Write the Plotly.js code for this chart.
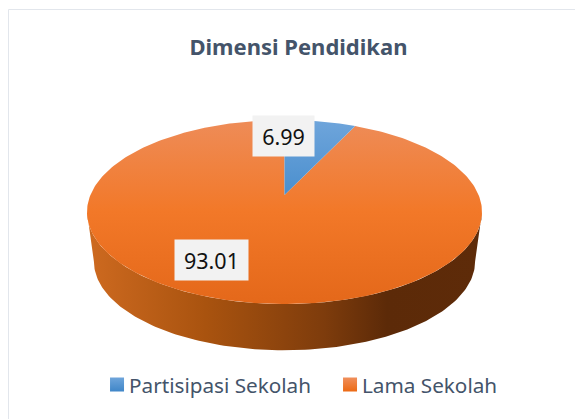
<!DOCTYPE html>
<html>
<head>
<meta charset="utf-8">
<script src="https://cdn.plot.ly/plotly-3.0.1.min.js"></script>
<style>html,body{margin:0;padding:0;background:#fff}#c{width:575px;height:419px}</style>
</head>
<body>
<div id="c"></div>
<script>
// Data
var categories = ["Partisipasi Sekolah", "Lama Sekolah"];
var values = [6.99, 93.01];
var valueLabels = ["6.99", "93.01"];

// Perspective disk model in an axis space that matches the page
var CX = 284.5, CY = 195, A = 194.1, B = 88.9, K = 0.185;
var BOTTOM_SCALE = 0.965, BOTTOM_CY = 245;

function project(theta, cy, s) {
  var u = Math.sin(theta), v = Math.cos(theta), d = 1 + K * v;
  return [CX + s * A * u / d, cy - s * B * v / d];
}
function arc(a0, a1, cy, s) {
  var n = Math.max(2, Math.ceil(Math.abs(a1 - a0) / 0.02)), pts = [];
  for (var i = 0; i <= n; i++) pts.push(project(a0 + (a1 - a0) * i / n, cy, s));
  return pts;
}
function sliceTrace(from, to, colorscale) {
  var pts = [[CX, CY]].concat(arc(from, to, CY, 1)).concat([[CX, CY]]);
  return {
    x: pts.map(function (p) { return p[0]; }),
    y: pts.map(function (p) { return p[1]; }),
    mode: "lines", line: {width: 0}, fill: "toself",
    fillgradient: {type: "vertical", colorscale: colorscale, start: 120, stop: 304},
    showlegend: false, hoverinfo: "skip"
  };
}

var total = values.reduce(function (a, b) { return a + b; }, 0);
var a1 = 2 * Math.PI * values[0] / total;
var edge = Math.PI - Math.acos(K);            // silhouette of the disk
var wallPts = arc(edge, 2 * Math.PI - edge, CY, 1)
  .concat(arc(2 * Math.PI - edge, edge, BOTTOM_CY, BOTTOM_SCALE));
wallPts.push(wallPts[0]);

var wall = {
  x: wallPts.map(function (p) { return p[0]; }),
  y: wallPts.map(function (p) { return p[1]; }),
  mode: "lines", line: {width: 0}, fill: "toself",
  fillgradient: {type: "horizontal", start: 87, stop: 482, colorscale: [
    [0, "#CE6A20"], [0.3, "#A9530F"], [0.6, "#7E3C0C"], [0.76, "#5C2A08"], [1, "#5E2B09"]
  ]},
  showlegend: false, hoverinfo: "skip"
};
var blue = sliceTrace(0, a1, [[0, "#6FA5DB"], [0.41, "#4A8FCE"], [1, "#4A8FCE"]]);
var orange = sliceTrace(a1, 2 * Math.PI, [[0, "#EE8C58"], [0.5, "#F27828"], [1, "#E4681A"]]);

function legendTrace(name, top, bottom) {
  return {
    x: [null], y: [null], name: name, mode: "markers", hoverinfo: "skip",
    marker: {symbol: "square", size: 14, color: top, gradient: {type: "vertical", color: bottom}}
  };
}

var traces = [wall, orange, blue,
  legendTrace(categories[0], "#6FA5DB", "#3F86C8"),
  legendTrace(categories[1], "#F08F5C", "#EC6A14")];

var FONT = "'Noto Sans', 'Open Sans', sans-serif";
var layout = {
  width: 575, height: 419,
  margin: {l: 0, r: 0, t: 0, b: 0},
  paper_bgcolor: "#fff", plot_bgcolor: "rgba(0,0,0,0)",
  xaxis: {range: [0, 575], visible: false, fixedrange: true},
  yaxis: {range: [419, 0], visible: false, fixedrange: true},
  title: {
    text: "<b>Dimensi Pendidikan</b>",
    font: {family: FONT, size: 22, color: "#44546A"},
    x: 0.519, xanchor: "center", y: 0.887, yanchor: "middle"
  },
  legend: {
    orientation: "h", x: 0.167, xanchor: "left", y: 0.13, yanchor: "top",
    font: {family: FONT, size: 20.7, color: "#44546A"},
    itemsizing: "trace", indentation: -7, entrywidth: 195, entrywidthmode: "pixels",
    bgcolor: "rgba(0,0,0,0)"
  },
  shapes: [{
    type: "rect", xref: "x", yref: "y", x0: 8.5, x1: 700, y0: 9.5, y1: 700,
    line: {color: "#E2E6EC", width: 1}, fillcolor: "rgba(0,0,0,0)", layer: "below"
  }],
  annotations: [
    {x: 283.5, y: 136, xref: "x", yref: "y", text: valueLabels[0], showarrow: false,
     width: 59, height: 38, bgcolor: "#F2F2F2",
     font: {family: FONT, size: 21.5, color: "#111"}},
    {x: 211.5, y: 260, xref: "x", yref: "y", text: valueLabels[1], showarrow: false,
     width: 71, height: 38, bgcolor: "#F2F2F2",
     font: {family: FONT, size: 21.5, color: "#111"}}
  ]
};
Plotly.newPlot("c", traces, layout, {displayModeBar: false, staticPlot: true}).then(function () {
  // The legend keeps a fixed swatch-to-text gap; the reference's gap is narrower.
  document.querySelectorAll("#c .legend .legendsymbols").forEach(function (g) {
    g.setAttribute("transform", (g.getAttribute("transform") || "") + " translate(8,0)");
  });
});
</script>
</body>
</html>
